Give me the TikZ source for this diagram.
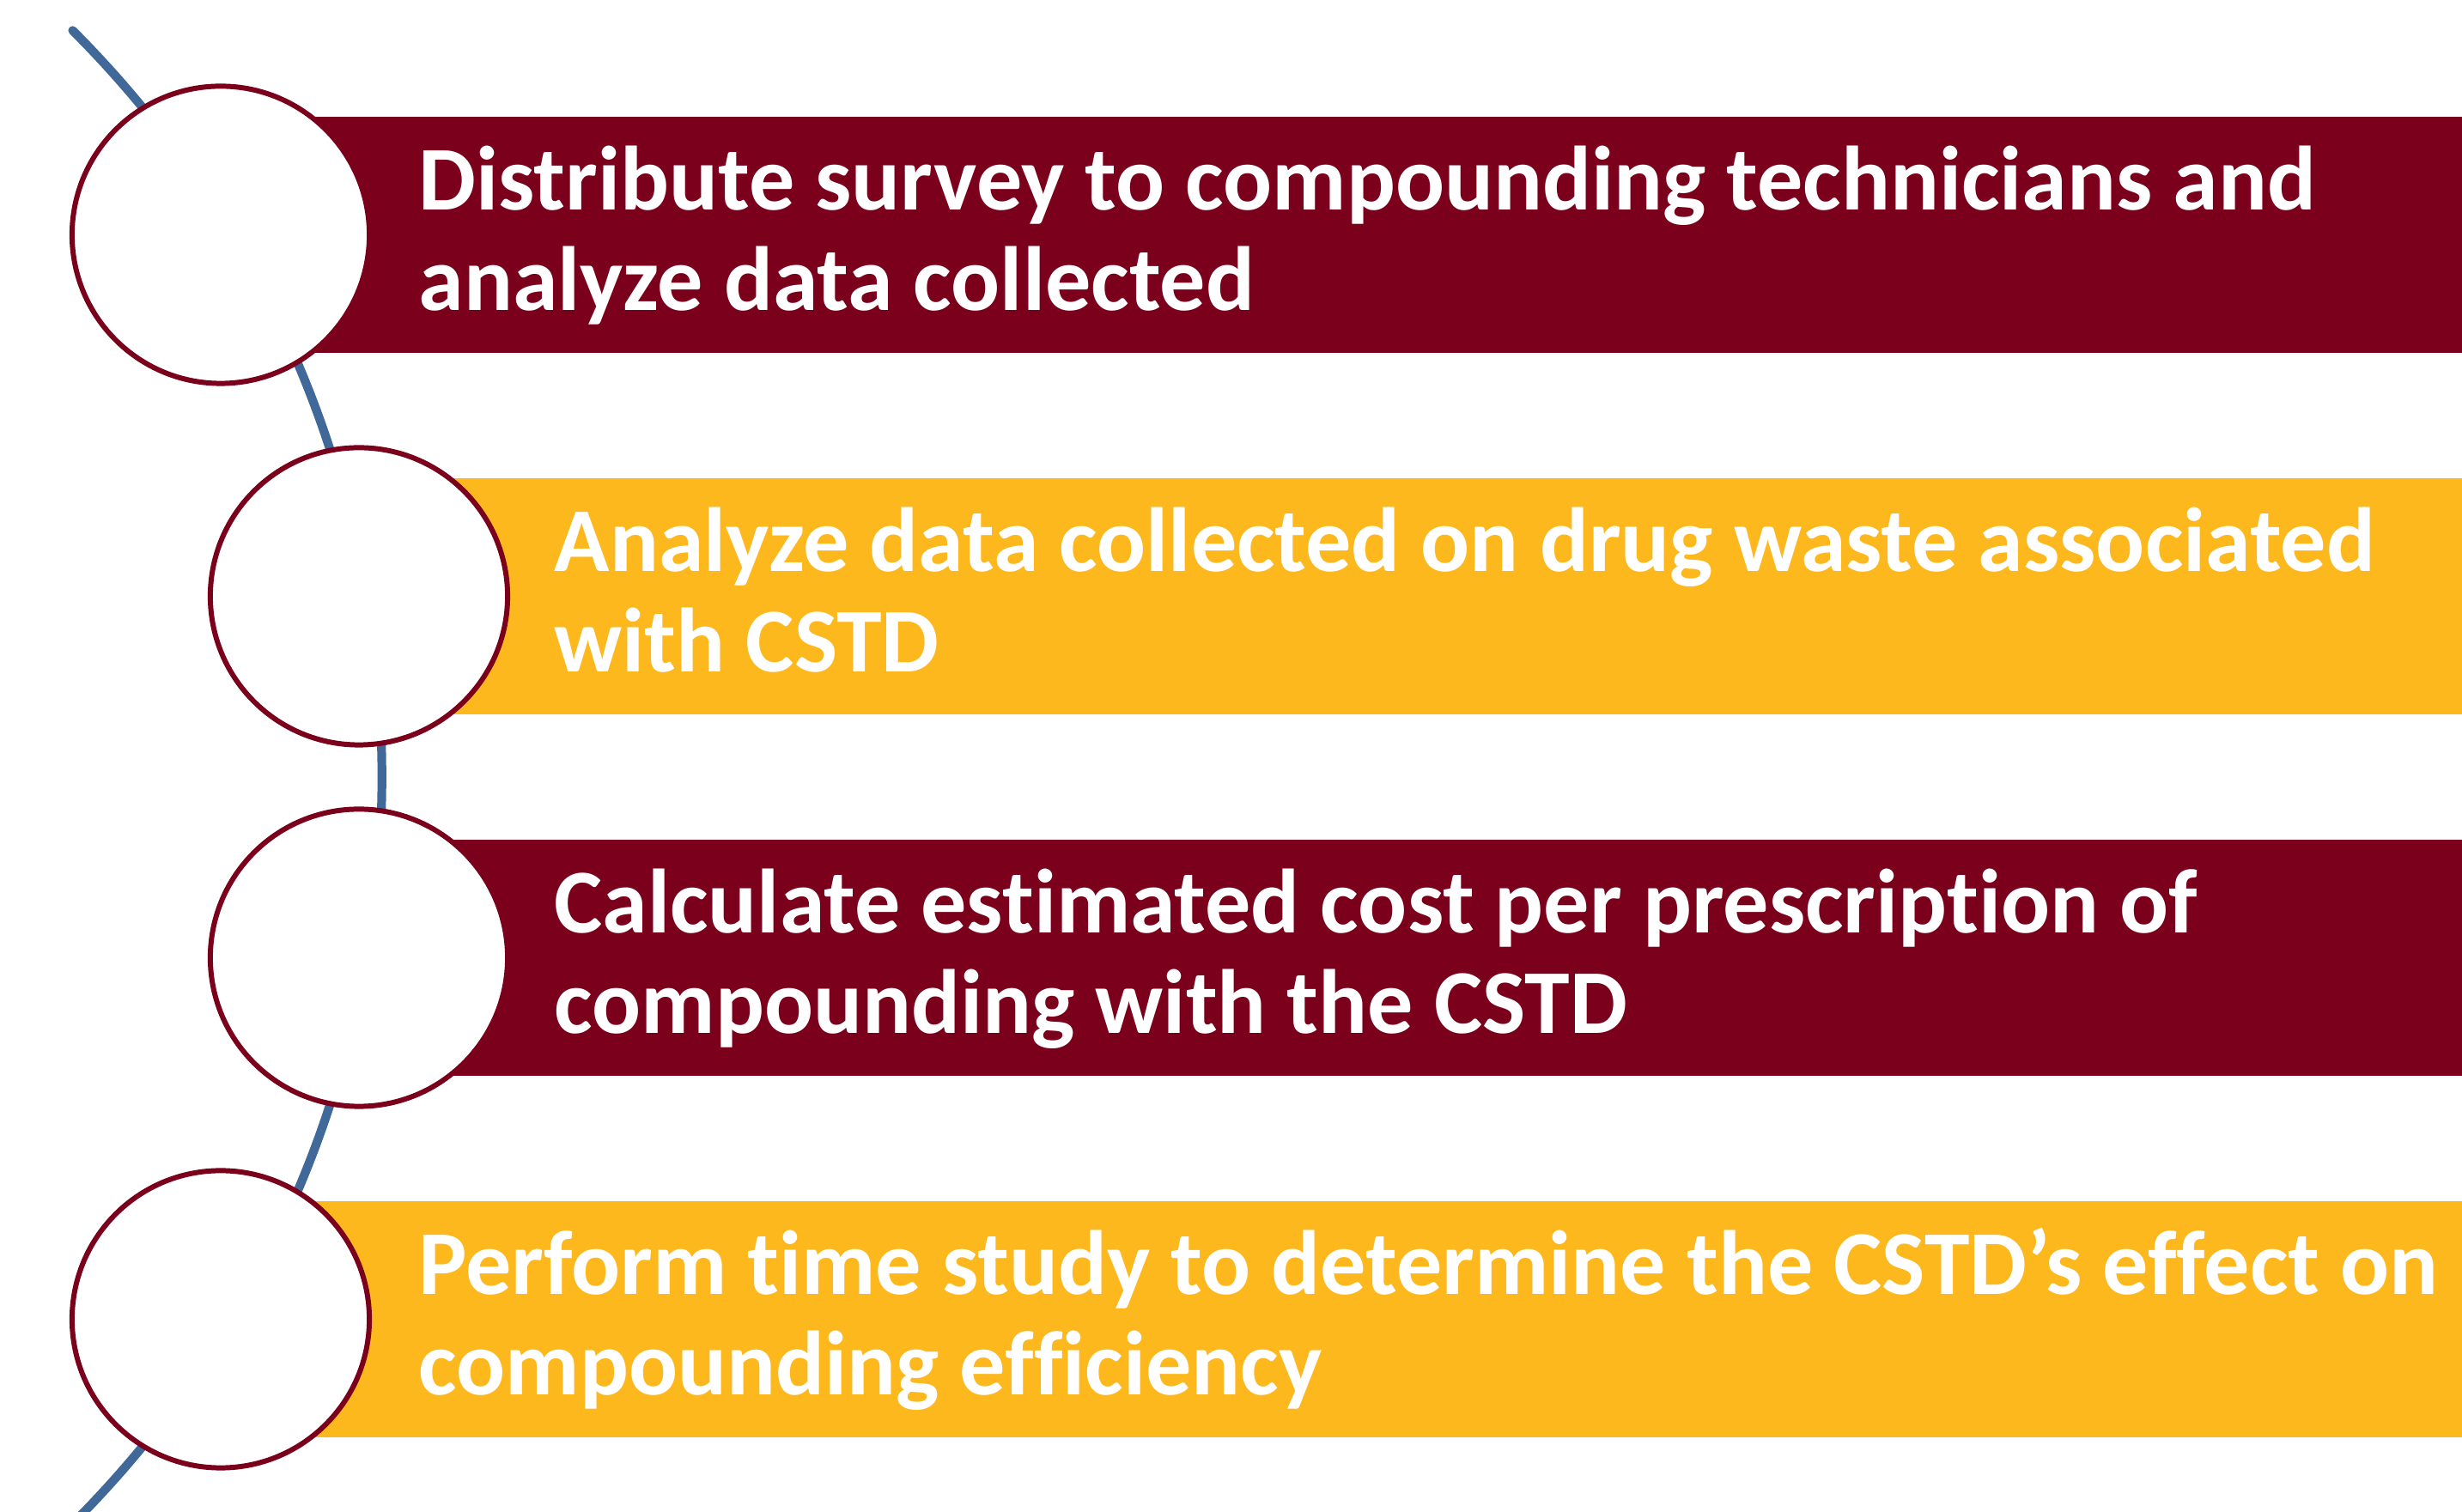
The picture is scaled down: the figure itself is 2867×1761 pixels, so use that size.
\documentclass[tikz,border=0pt]{standalone}
\usepackage{fontspec}
\setmainfont{Carlito}[RawFeature={-liga;-dlig;-calt}]
\usepackage{xcolor}
\usepackage{tikz}
\usetikzlibrary{positioning}
\definecolor{barmaroon}{RGB}{122,0,28}
\definecolor{bargold}{RGB}{253,184,30}
\definecolor{lineblue}{RGB}{64,104,152}

\begin{document}
\begin{tikzpicture}[
    x=0.01cm, y=0.01cm,
    stepbar/.style={anchor=west, minimum height=2.75cm, inner sep=0pt, outer sep=0pt},
    marker/.style={draw=barmaroon, fill=white, circle, line width=1.7pt, minimum size=3.46cm, inner sep=0pt},
    steptext/.style={anchor=base west, align=left, text=white, inner sep=0pt, font=\fontsize{30.2}{33.3}\selectfont\bfseries},
    timeline/.style={draw=lineblue, line width=2.9pt, line cap=round}
]
    \clip (0,0) rectangle (2867,1761);

    % Timeline arc, behind the markers
    \coordinate (hub) at (-785,856);
    \draw[timeline] (hub) ++(45:12.29cm) arc (45:-45:12.29cm);

    % Bars
    \node[stepbar, fill=barmaroon, minimum width=26.1cm] (bar1) at (257,1487.5) {};
    \node[stepbar, fill=bargold, minimum width=24.49cm] (bar2) at (418,1066.5) {};
    \node[stepbar, fill=barmaroon, minimum width=24.49cm] (bar3) at (418,645.5) {};
    \node[stepbar, fill=bargold, minimum width=26.1cm] (bar4) at (257,224.5) {};

    % Markers
    \node[marker] (mark1) at (257,1487.5) {};
    \node[marker] (mark2) at (418,1066.5) {};
    \node[marker] (mark3) at (418,645.5) {};
    \node[marker] (mark4) at (257,224.5) {};

    % Step texts (anchored on the baseline of the second line)
    \node[steptext] (text1) at (487,1399) {Distribute survey to compounding technicians and\\analyze data collected};
    \node[steptext] (text2) at (645,978) {Analyze data collected on drug waste associated\\with CSTD};
    \node[steptext] (text3) at (645,557) {Calculate estimated cost per prescription of\\compounding with the CSTD};
    \node[steptext] (text4) at (487,136) {Perform time study to determine the CSTD’s effect on\\compounding efficiency};
\end{tikzpicture}
\end{document}
